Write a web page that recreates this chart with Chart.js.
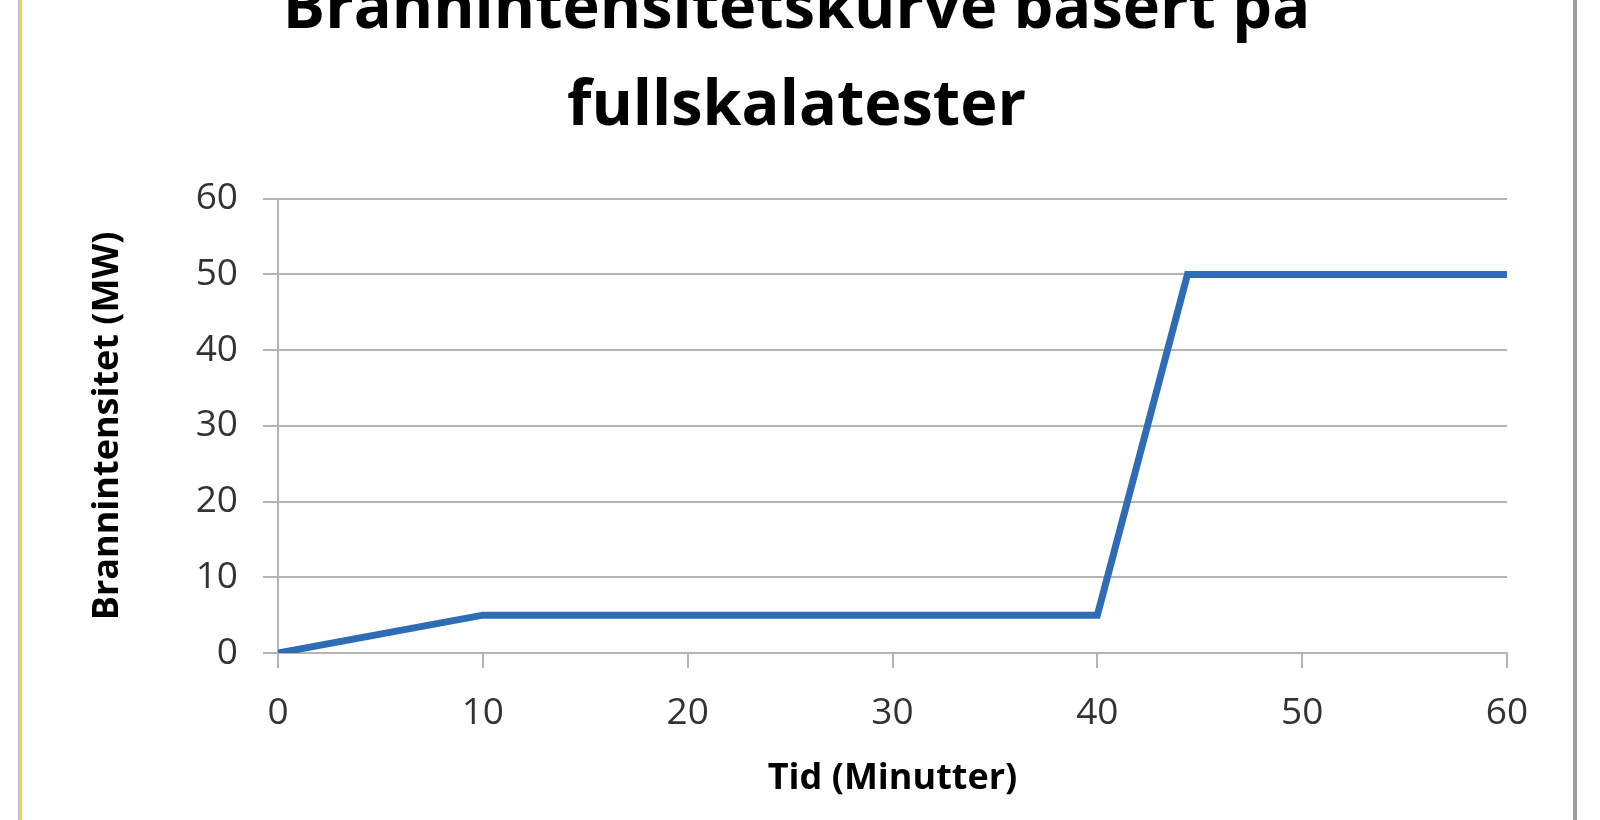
<!DOCTYPE html>
<html>
<head>
<meta charset="utf-8">
<script src="https://cdn.jsdelivr.net/npm/chart.js@4/dist/chart.umd.min.js"></script>
<style>
  html, body { margin: 0; padding: 0; background: #fff; overflow: hidden; }
  #page { position: relative; width: 1600px; height: 820px; overflow: hidden; }
  #frameL { position: absolute; left: 18px; top: 0; width: 4px; height: 820px;
            background: #e6de2a; border-left: 1px solid #b8b8d8; box-sizing: border-box; }
  #frameR { position: absolute; left: 1573px; top: 0; width: 4px; height: 820px; background: #9c9c9c; }
  #wrap { position: absolute; left: 0; top: -50px; width: 1600px; height: 870px; }
</style>
</head>
<body>
<div id="page">
  <div id="frameL"></div>
  <div id="frameR"></div>
  <div id="wrap"><canvas id="brann" width="1600" height="870"></canvas></div>
</div>
<script>
// Brannintensitet over tid (fullskalatester)
const tidMinutter = [0, 10, 40, 44.4, 60];
const intensitetMW = [0, 5, 5, 50, 50];
const xTicks = [0, 10, 20, 30, 40, 50, 60];
const yTicks = [0, 10, 20, 30, 40, 50, 60];

const gridGray = "#b4b4b4";
const tickColor = "#333333";

const points = tidMinutter.map((t, i) => ({ x: t, y: intensitetMW[i] }));

new Chart(document.getElementById("brann").getContext("2d"), {
  type: "line",
  data: {
    datasets: [{
      label: "Brannintensitet",
      data: points,
      borderColor: "#2e6cb6",
      borderWidth: 7,
      borderJoinStyle: "miter",
      pointRadius: 0,
      tension: 0,
      fill: false
    }]
  },
  options: {
    responsive: false,
    animation: false,
    devicePixelRatio: 1,
    layout: { padding: { left: 86, right: 93, top: 0, bottom: 0 } },
    plugins: {
      legend: { display: false },
      tooltip: { enabled: false },
      title: {
        display: true,
        text: ["Brannintensitetskurve basert på", "fullskalatester"],
        color: "#000",
        font: { family: "'Open Sans'", size: 63, weight: "bold", lineHeight: 1.53 },
        padding: { top: 12, bottom: 44 }
      }
    },
    scales: {
      x: {
        type: "linear",
        min: 0,
        max: 60,
        afterBuildTicks: (s) => { s.ticks = xTicks.map(v => ({ value: v })); },
        afterFit: (s) => { s.height = 167; },
        grid: { drawOnChartArea: false, drawTicks: true, tickLength: 15, color: gridGray, lineWidth: 2 },
        border: { color: gridGray, width: 2 },
        ticks: {
          color: tickColor,
          font: { family: "'Open Sans'", size: 37 },
          padding: 23,
          maxRotation: 0
        },
        title: {
          display: true,
          text: "Tid (Minutter)",
          color: "#000",
          font: { family: "'Open Sans'", size: 36, weight: "bold" },
          padding: { top: 0, bottom: 20 }
        }
      },
      y: {
        min: 0,
        max: 60,
        afterBuildTicks: (s) => { s.ticks = yTicks.map(v => ({ value: v })); },
        afterFit: (s) => { s.width = 192; },
        grid: { drawTicks: true, tickLength: 15, color: gridGray, lineWidth: 2 },
        border: { color: gridGray, width: 2 },
        ticks: {
          color: tickColor,
          font: { family: "'Open Sans'", size: 37 },
          padding: 25
        },
        title: {
          display: true,
          text: "Brannintensitet (MW)",
          color: "#000",
          font: { family: "'Open Sans'", size: 36, weight: "bold" },
          padding: { top: 0, bottom: 0 }
        }
      }
    }
  }
});
</script>
</body>
</html>
